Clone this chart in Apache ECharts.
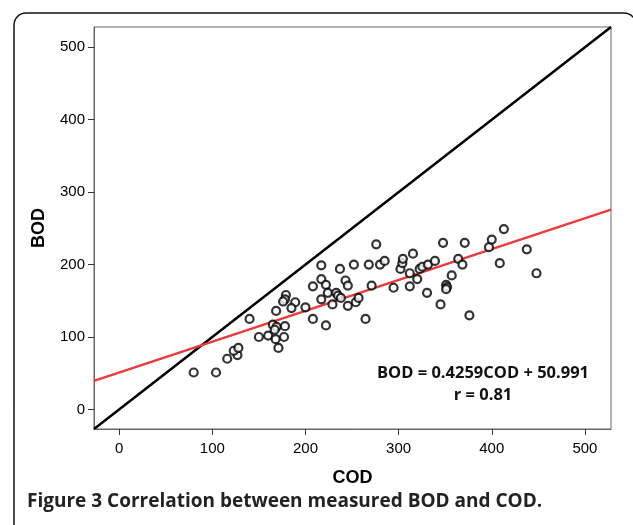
<!DOCTYPE html>
<html><head><meta charset="utf-8">
<script src="https://cdn.jsdelivr.net/npm/echarts@6/dist/echarts.min.js"></script>
<style>html,body{margin:0;padding:0;background:#fff}#c{width:633px;height:525px}</style>
</head><body><div id="c"></div>
<script>
var codValues = [80,104,116,127,123,128,140,150,160,168,171,177,165,169,167,178,168.5,179,178,176,189,185,200,208,208,217,217,222,224,217,222,233,235,238,229,237,243,245.5,252,245.5,254,257,264.5,268,271,276,280,285,294.6,302,304,304.6,312,312,315.4,320,322.6,325.5,330.5,331.5,339,345,347.7,351,352,351,357,364,368.5,371,376,397,400,408.6,413,437.6,448];
var bodValues = [51,51,70,75,81,85,125,100,102,97,85,100,117,114,110,115,136,158,152,149,148,140,141,125,170,199,180,172,161,152,116,161,157,154,145,194,178,171,200,143,148,154,125,200,171,228,200,205,168,194,202,208,188,170,215,180,194,197,161,200,205,145,230,172,169,166,185,208,200,230,130,224,234.5,202,249,221,188];
var tickValues = [0,100,200,300,400,500];
var regression = {slope:0.4259, intercept:50.991};
var axisRange = [-27, 528];
var equationText = 'BOD = 0.4259COD + 50.991';
var rText = 'r = 0.81';
var caption = 'Figure 3 Correlation between measured BOD and COD.';

var pts = codValues.map(function(v,i){return [v, bodValues[i]];});
var idLine = [[axisRange[0],axisRange[0]],[axisRange[1],axisRange[1]]];
var regLine = [axisRange[0],axisRange[1]].map(function(x){return [x, regression.slope*x+regression.intercept];});

var chart = echarts.init(document.getElementById('c'), null, {renderer:'canvas'});
function axisCommon(margin){
  return {
    min: axisRange[0], max: axisRange[1],
    axisLine:{show:true,onZero:false,lineStyle:{color:'#666',width:1}},
    axisTick:{show:true,length:6,customValues:tickValues,lineStyle:{color:'#333',width:1}},
    axisLabel:{customValues:tickValues,color:'#000',fontSize:15,fontFamily:'Liberation Sans, Arial',margin:margin},
    splitLine:{show:false},
    nameTextStyle:{color:'#000',fontSize:18,fontWeight:'bold',fontFamily:'Liberation Sans, Arial'}
  };
}
chart.setOption({
  animation:false,
  backgroundColor:'#fff',
  grid:{left:94,top:27,right:22,bottom:96,show:true,borderColor:'#666',borderWidth:1},
  xAxis:Object.assign(axisCommon(12), {type:'value',name:'COD',nameLocation:'middle',nameGap:40}),
  yAxis:Object.assign(axisCommon(9), {type:'value',name:'BOD',nameLocation:'middle',nameGap:46}),
  graphic:[
    {type:'rect',shape:{x:14,y:13,width:622,height:620,r:12},style:{fill:null,stroke:'#111',lineWidth:1.5},silent:true,z:-1},
    {type:'text',left:27,top:492,style:{text:caption,fill:'#222',font:'bold 19px "Open Sans", "Liberation Sans", sans-serif'}},
    {type:'text',x:483,y:373,style:{text:equationText,fill:'#111',align:'center',verticalAlign:'middle',font:'bold 16.5px "Open Sans", "Liberation Sans", sans-serif'}},
    {type:'text',x:483,y:395,style:{text:rText,fill:'#111',align:'center',verticalAlign:'middle',font:'bold 16.5px "Open Sans", "Liberation Sans", sans-serif'}}
  ],
  series:[
    {type:'line',data:idLine,symbol:'none',lineStyle:{color:'#000',width:2.5},z:2},
    {type:'line',data:regLine,symbol:'none',lineStyle:{color:'#ec3a3a',width:2.5},z:3},
    {type:'scatter',data:pts,symbol:'circle',symbolSize:8,itemStyle:{color:'#fff',borderColor:'#000',borderWidth:2.2},z:4}
  ]
});
</script></body></html>
